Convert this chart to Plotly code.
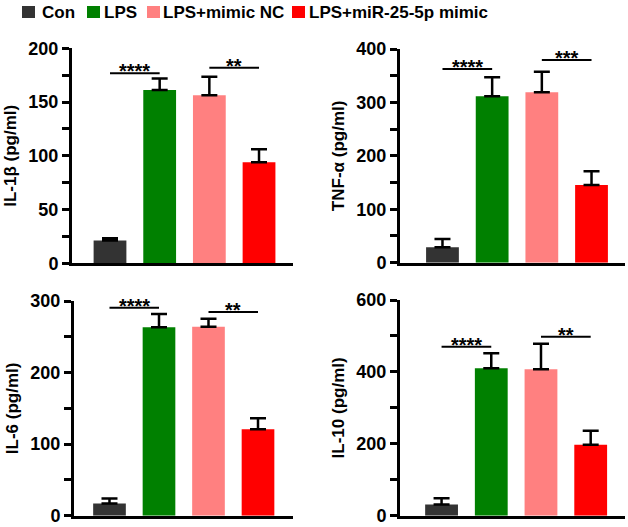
import plotly.graph_objects as go
from plotly.subplots import make_subplots

groups = ["Con", "LPS", "LPS+mimic NC", "LPS+miR-25-5p mimic"]
colors = ["#333333", "#008000", "#FF8080", "#FF0000"]

il1b_mean = [21.1, 161.2, 156.3, 94.0]
il1b_err = [2.2, 10.6, 17.3, 12.0]
tnfa_mean = [28.7, 311.4, 318.9, 145.4]
tnfa_err = [15.6, 35.6, 38.7, 25.6]
il6_mean = [17.2, 263.2, 264.1, 120.7]
il6_err = [7.0, 18.6, 11.2, 15.3]
il10_mean = [31.5, 409.9, 407.1, 197.5]
il10_err = [16.7, 41.7, 71.4, 39.0]

y_titles = ["IL-1β (pg/ml)", "TNF-α (pg/ml)", "IL-6 (pg/ml)", "IL-10 (pg/ml)"]
y_max = [200, 400, 300, 600]
y_dtick = [50, 100, 100, 200]
y_minor = [25, 50, 50, 100]

# significance brackets: (group a, group b, height, label)
sig_il1b = [(0, 1, 176.7, "****"), (2, 3, 182.0, "**")]
sig_tnfa = [(0, 1, 362.6, "****"), (2, 3, 379.4, "***")]
sig_il6 = [(0, 1, 290.7, "****"), (2, 3, 284.6, "**")]
sig_il10 = [(0, 1, 470.2, "****"), (2, 3, 498.0, "**")]

panels = [
    (il1b_mean, il1b_err, sig_il1b),
    (tnfa_mean, tnfa_err, sig_tnfa),
    (il6_mean, il6_err, sig_il6),
    (il10_mean, il10_err, sig_il10),
]

W, H = 628, 527


def fx(px_):
    return px_ / W


def fy(py_):
    return 1 - py_ / H


# pixel layout of each plot area: (x0, x1, ytop, ybottom), x range
px = [
    (72, 293, 48.3, 263.3, [-0.765, 3.684]),
    (400, 625, 49.0, 262.7, [-0.855, 3.674]),
    (74, 293, 301.0, 515.7, [-0.717, 3.707]),
    (400, 625, 300.0, 515.7, [-0.836, 3.69]),
]
# legend layout in px: square left edges and text left edges
leg_sq_x = [22, 87, 147, 292]
leg_tx_x = [40, 102, 161, 307]

fig = make_subplots(rows=2, cols=2)
FONT = "Liberation Sans, Arial, sans-serif"

for i, (means, errs, sigs) in enumerate(panels):
    r, c = i // 2 + 1, i % 2 + 1
    for g in range(4):
        fig.add_trace(
            go.Bar(
                x=[g], y=[means[g]], name=groups[g],
                marker=dict(color=colors[g], line=dict(width=0)),
                width=0.66,
                error_y=dict(type="data", array=[errs[g]], arrayminus=[0], symmetric=False,
                             color="black", thickness=2.5, width=8),
                showlegend=False,
            ),
            row=r, col=c,
        )
    x0, x1, yt, yb, xr = px[i]
    xa = "xaxis" if i == 0 else f"xaxis{i+1}"
    ya = "yaxis" if i == 0 else f"yaxis{i+1}"
    fig.layout[xa].update(
        domain=[fx(x0), fx(x1)], range=xr, showticklabels=False, ticks="",
        showline=True, linewidth=3, linecolor="black", showgrid=False, zeroline=False,
        automargin=False,
    )
    fig.layout[ya].update(
        domain=[fy(yb), fy(yt)], range=[0, y_max[i]], dtick=y_dtick[i],
        showline=True, linewidth=3, linecolor="black", showgrid=False, zeroline=False,
        ticks="outside", ticklen=7, tickwidth=3, tickcolor="black", automargin=False,
        minor=dict(dtick=y_minor[i], ticks="outside", ticklen=7, tickwidth=3, tickcolor="black"),
        tickfont=dict(family=FONT, size=18, color="black", weight="bold"),
        title=dict(text=y_titles[i], font=dict(family=FONT, size=17, color="black", weight="bold"),
                   standoff=8),
    )
    xref = "x" if i == 0 else f"x{i+1}"
    yref = "y" if i == 0 else f"y{i+1}"
    for (a, b, h, lab) in sigs:
        fig.add_shape(type="line", xref=xref, yref=yref, x0=a, x1=b, y0=h, y1=h,
                      line=dict(color="black", width=2))
        fig.add_annotation(xref=xref, yref=yref, x=(a + b) / 2, y=h, text=lab,
                           showarrow=False, yanchor="bottom", yshift=-11,
                           font=dict(family=FONT, size=20, color="black", weight="bold"))

# legend built from the group names and colours
for g in range(4):
    fig.add_shape(type="rect", xref="paper", yref="paper",
                  x0=fx(leg_sq_x[g]), x1=fx(leg_sq_x[g] + 13),
                  y0=fy(18), y1=fy(6),
                  fillcolor=colors[g], line=dict(width=0))
    fig.add_annotation(xref="paper", yref="paper", x=fx(leg_tx_x[g]), y=fy(12),
                       xanchor="left", yanchor="middle", text=groups[g], showarrow=False,
                       font=dict(family=FONT, size=17, color="black", weight="bold"))

fig.update_layout(
    width=W, height=H, margin=dict(l=0, r=0, t=0, b=0),
    paper_bgcolor="white", plot_bgcolor="white",
    barmode="overlay", showlegend=False,
)

fig.write_html("out.html", config={"displayModeBar": False},
               post_script="document.body.style.margin='0';")
